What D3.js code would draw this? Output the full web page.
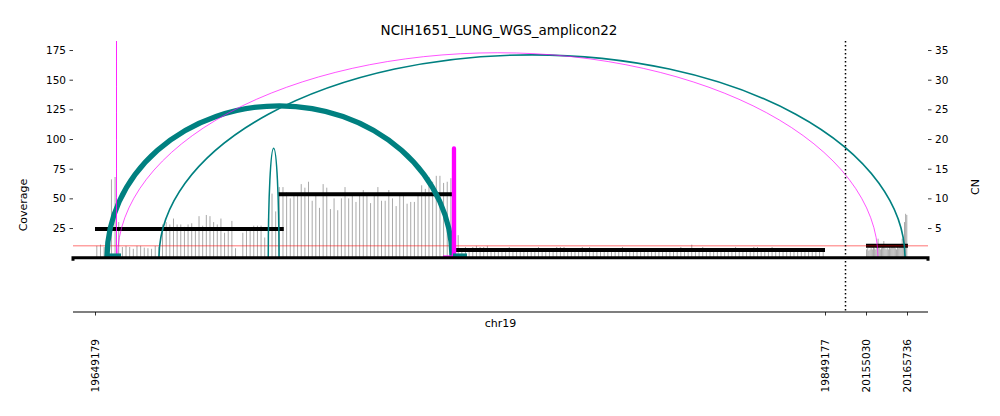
<!DOCTYPE html>
<html>
<head>
<meta charset="utf-8">
<script src="https://cdn.jsdelivr.net/npm/d3@7"></script>
<style>
  body { margin: 0; background: #fff; }
  svg { font-family: "DejaVu Sans", sans-serif; }
</style>
</head>
<body>
<script>
// genomic intervals shown on the x axis
var intervals = [[19649179, 19849177], [20155030, 20165736]];
var xTicks = [19649179, 19849177, 20155030, 20165736];
var covTicks = [25, 50, 75, 100, 125, 150, 175];
var cnTicks = [5, 10, 15, 20, 25, 30, 35];

// read coverage, 1 kb bins starting at 19649179
var covSeg1 = [10, 11, 9, 12, 66, 68, 30, 9, 10, 9, 7.5, 10, 10, 8.5, 8, 7.5, 10, 9, 28, 30,
  28, 33, 28, 28, 26, 28, 29, 25, 35, 27, 36, 35, 30, 28, 33, 21, 25, 31, 8, 0,
  21, 23, 23, 27, 27, 27, 17, 33, 54, 39, 59.5, 59.5, 55, 50, 52, 52, 62, 59, 64, 48,
  52, 42, 62, 59, 41, 50, 40, 50, 59.5, 50, 53, 47, 52, 57, 53, 46, 52, 59.5, 48, 48,
  57, 50, 43.5, 52, 52, 45.5, 47, 47, 52, 61, 58, 68, 64, 69, 69, 63, 64, 67, 45, 19,
  7, 9, 7, 9, 10, 9, 9, 10, 7, 6, 7, 8, 6, 9, 7, 6, 7, 8, 6, 7,
  7, 9, 6, 7, 8, 6, 9, 9, 9, 7, 6, 7, 8, 9, 7, 9, 6, 7, 8, 6,
  7, 6, 7, 8, 9, 7, 6, 7, 8, 6, 7, 7, 6, 8, 7, 6, 7, 8, 7, 6,
  9, 7, 6, 11, 7, 6, 9, 7, 8, 6, 7, 7, 6, 8, 7, 9, 6, 7, 8, 6,
  9, 9, 7, 6, 7, 9, 7, 6, 8, 7, 6, 7, 8, 6, 7, 7, 6, 8, 7, 6];
// coverage, 300 bp bins starting at 20155030
var covSeg2 = [7, 8, 6, 7, 8, 7, 9, 8, 7, 9, 16, 8, 7, 8, 9, 14, 8, 7, 8, 7,
  9, 8, 9, 10, 9, 8, 7, 9, 8, 9, 10, 16, 12, 30, 37, 36];

// copy number segments [start, end, CN]
var cnSegStart = [19649179, 19699400, 19747700, 20155030];
var cnSegEnd = [19700900, 19747900, 19849177, 20165980];
var cnSegValue = [4.84, 10.7, 1.3, 2.0];

// breakpoint edges: ends, arc height (coverage units), colour, line width, opacity
var edgeStart = [19652467, 19666713, 19655343, 19696658, 19655066, 19747500];
var edgeEnd = [19746987, 20165214, 20158163, 19699590, 19655072, 19747560];
var edgeHeight = [128, 171, 172.7, 92.2, 260, 92];
var edgeColor = ["#008080", "#008080", "#ff00ff", "#008080", "#ff00ff", "#ff00ff"];
var edgeWidth = [5.3, 1.6, 0.9, 1.5, 0.9, 4.3];
var edgeOpacity = [1, 1, 0.75, 1, 0.7, 1];

// short orientation stubs on the baseline
var stubStart = [19651919, 19747260, 19744521];
var stubEnd = [19656302, 19751096, 19746987];
var stubColor = ["#008080", "#008080", "#ff00ff"];
var stubWidth = [3.5, 3.5, 1.5];

var cnRef = 2;

var W = 1000, H = 416;
var pLeft = 73, pRight = 928, pTop = 41, pBase = 257.7, bottomAxisY = 312;

var svg = d3.select("body").append("svg")
    .attr("width", W)
    .attr("height", H);

var x = d3.scaleLinear().domain(xTicks).range([95, 825, 866, 907]);
var y = d3.scaleLinear().domain([0, 182.6]).range([pBase, pTop]);
var yCN = d3.scaleLinear().domain([0, 182.6 / 5]).range([pBase, pTop]);

svg.append("defs").append("clipPath").attr("id", "plotclip")
  .append("rect").attr("x", pLeft).attr("y", pTop).attr("width", pRight - pLeft).attr("height", H - pTop);

var plot = svg.append("g").attr("clip-path", "url(#plotclip)");

// coverage bars
var bars = covSeg1.map(function(v, i) { return {pos: intervals[0][0] + i * 1000 + 500, cov: v}; })
  .concat(covSeg2.map(function(v, i) { return {pos: intervals[1][0] + i * 300 + 150, cov: v}; }));

plot.selectAll(".cov").data(bars).enter().append("line")
    .attr("class", "cov")
    .attr("x1", function(d) { return x(d.pos); })
    .attr("x2", function(d) { return x(d.pos); })
    .attr("y1", pBase)
    .attr("y2", function(d) { return y(d.cov); })
    .attr("stroke", "#a8a8a8")
    .attr("stroke-width", 1);

// CN segments
plot.selectAll(".cn").data(cnSegValue).enter().append("line")
    .attr("class", "cn")
    .attr("x1", function(d, i) { return x(cnSegStart[i]); })
    .attr("x2", function(d, i) { return x(cnSegEnd[i]); })
    .attr("y1", function(d) { return yCN(d); })
    .attr("y2", function(d) { return yCN(d); })
    .attr("stroke", "black")
    .attr("stroke-width", 4);

// reference CN line
plot.append("line")
    .attr("x1", pLeft).attr("x2", pRight)
    .attr("y1", yCN(cnRef)).attr("y2", yCN(cnRef))
    .attr("stroke", "#ff0000")
    .attr("stroke-opacity", 0.55)
    .attr("stroke-width", 1);

// baseline
svg.append("path")
    .attr("d", "M" + pLeft + "," + (pBase + 3) + "V" + pBase + "H" + pRight + "V" + (pBase + 3))
    .attr("fill", "none")
    .attr("stroke", "black")
    .attr("stroke-width", 3);

// edges as half ellipses
var edges = edgeStart.map(function(s, i) {
  return {s: s, e: edgeEnd[i], h: edgeHeight[i], c: edgeColor[i], w: edgeWidth[i], o: edgeOpacity[i]};
});
plot.selectAll(".edge").data(edges).enter().append("path")
    .attr("class", "edge")
    .attr("d", function(d) {
      var x1 = x(d.s), x2 = x(d.e);
      var rx = (x2 - x1) / 2, ry = pBase - y(d.h);
      return "M" + x1 + "," + pBase + "A" + rx + "," + ry + " 0 0 1 " + x2 + "," + pBase;
    })
    .attr("fill", "none")
    .attr("stroke", function(d) { return d.c; })
    .attr("stroke-opacity", function(d) { return d.o; })
    .attr("stroke-width", function(d) { return d.w; });

plot.selectAll(".stub").data(stubStart).enter().append("line")
    .attr("class", "stub")
    .attr("x1", function(d) { return x(d); })
    .attr("x2", function(d, i) { return x(stubEnd[i]); })
    .attr("y1", function(d, i) { return pBase - 2.5 + (stubWidth[i] < 2 ? 1 : 0); })
    .attr("y2", function(d, i) { return pBase - 2.5 + (stubWidth[i] < 2 ? 1 : 0); })
    .attr("stroke", function(d, i) { return stubColor[i]; })
    .attr("stroke-width", function(d, i) { return stubWidth[i]; });

// interval divider
svg.append("line")
    .attr("x1", (x(intervals[0][1]) + x(intervals[1][0])) / 2)
    .attr("x2", (x(intervals[0][1]) + x(intervals[1][0])) / 2)
    .attr("y1", pTop).attr("y2", bottomAxisY)
    .attr("stroke", "black")
    .attr("stroke-width", 1.5)
    .attr("stroke-dasharray", "1.5,2.5");

// y axes
var yAxisL = svg.append("g")
    .attr("transform", "translate(" + pLeft + ",0)")
    .call(d3.axisLeft(y).tickValues(covTicks).tickSize(3.5).tickPadding(3.5));
var yAxisR = svg.append("g")
    .attr("transform", "translate(" + pRight + ",0)")
    .call(d3.axisRight(yCN).tickValues(cnTicks).tickSize(3.5).tickPadding(3.5));
[yAxisL, yAxisR].forEach(function(g) {
  g.select(".domain").remove();
  g.selectAll("text").attr("font-size", 10.5).attr("font-family", "DejaVu Sans").attr("fill", "black");
  g.selectAll("line").attr("stroke-width", 0.8);
});

// bottom axis
var xAxis = svg.append("g")
    .attr("transform", "translate(0," + bottomAxisY + ")")
    .call(d3.axisBottom(x).tickValues(xTicks).tickSize(3.5).tickFormat(d3.format("d")));
xAxis.select(".domain").remove();
xAxis.selectAll("line").attr("stroke-width", 0.8);
xAxis.selectAll("text")
    .attr("transform", "rotate(-90)")
    .attr("x", -27).attr("y", 0).attr("dy", "0.35em")
    .attr("text-anchor", "end")
    .attr("font-size", 10.5).attr("font-family", "DejaVu Sans").attr("fill", "black");
xAxis.append("line")
    .attr("x1", pLeft).attr("x2", pRight).attr("y1", 0).attr("y2", 0)
    .attr("stroke", "black").attr("stroke-width", 1.2);

svg.append("text")
    .attr("x", (pLeft + pRight) / 2).attr("y", 327)
    .attr("text-anchor", "middle")
    .attr("font-size", 11)
    .text("chr19");

// titles
svg.append("text")
    .attr("x", 499).attr("y", 35)
    .attr("text-anchor", "middle")
    .attr("font-size", 13.5)
    .text("NCIH1651_LUNG_WGS_amplicon22");

svg.append("text")
    .attr("transform", "translate(27,205) rotate(-90)")
    .attr("text-anchor", "middle")
    .attr("font-size", 11)
    .text("Coverage");

svg.append("text")
    .attr("transform", "translate(979,187) rotate(-90)")
    .attr("text-anchor", "middle")
    .attr("font-size", 11)
    .text("CN");
</script>
</body>
</html>
